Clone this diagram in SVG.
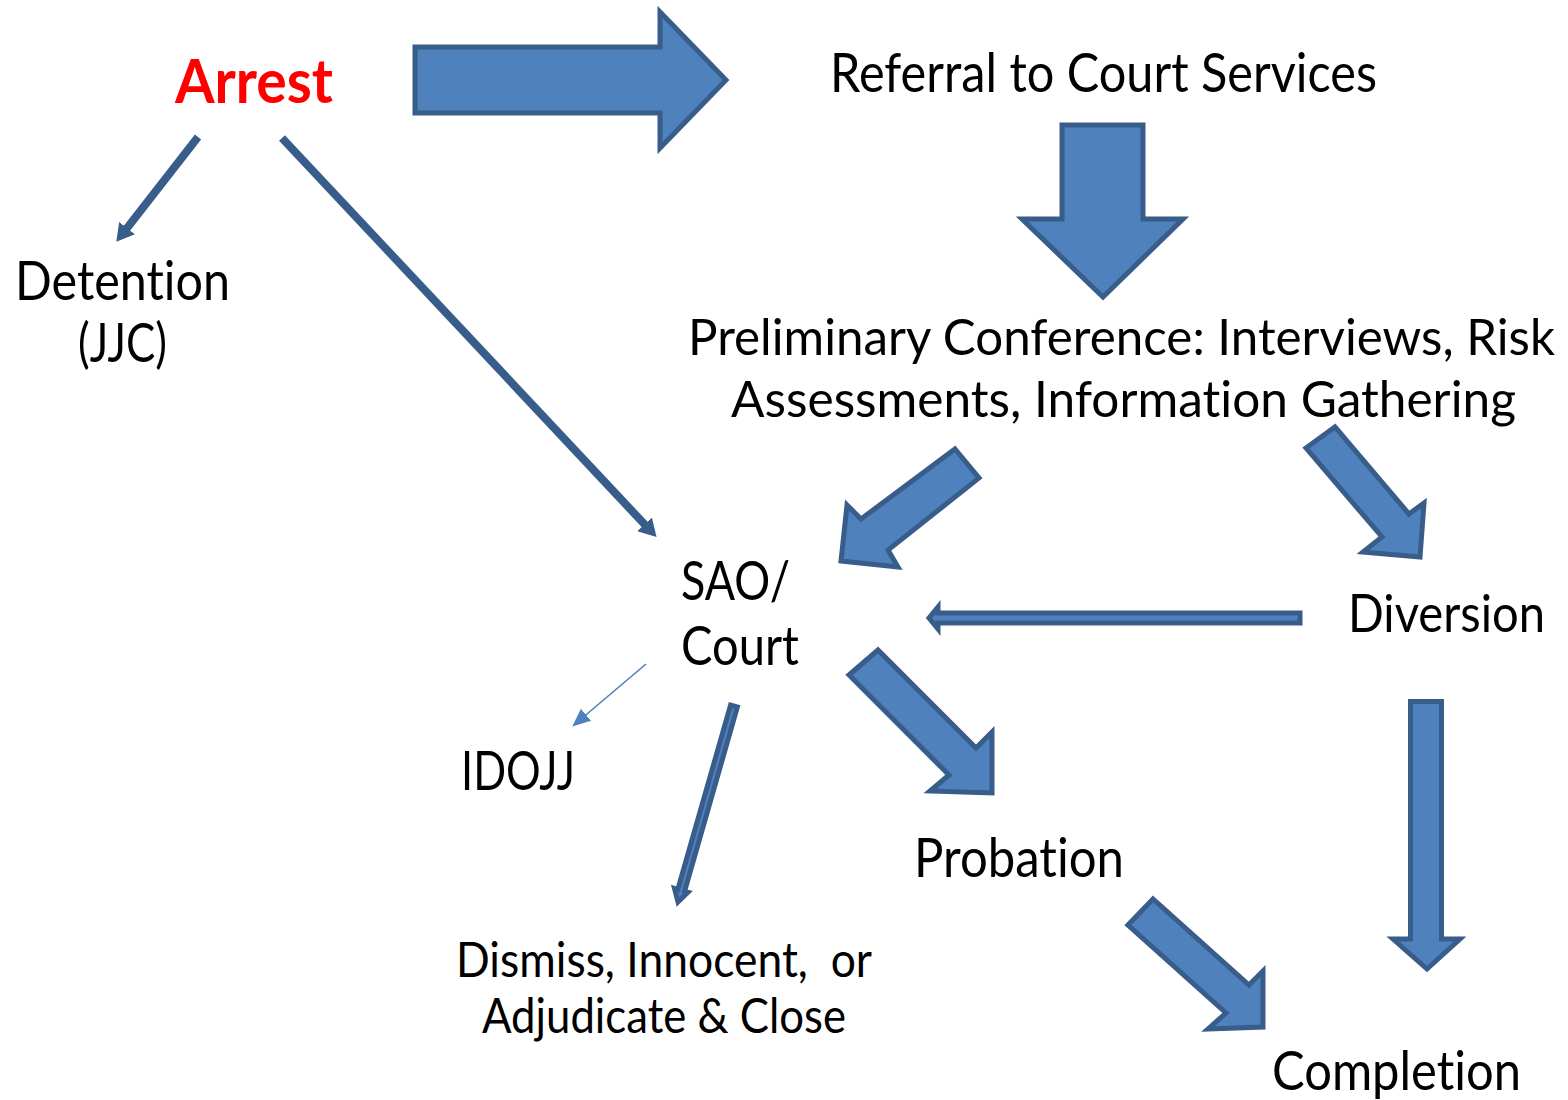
<svg xmlns="http://www.w3.org/2000/svg" width="1568" height="1100" viewBox="0 0 1568 1100">
<style>
text{font-variant-ligatures:none;font-feature-settings:"liga" 0,"clig" 0}
.t{font-family:Lato,"Open Sans","Liberation Sans",sans-serif;font-size:54px;fill:#000}
.s{font-size:48px}
.p{font-size:49.5px}
.blk{fill:#4f81bd;stroke:#385d8a;stroke-width:5;stroke-linejoin:miter}
.ln{stroke:#385d8a;stroke-width:8;fill:none}
</style>
<defs>
<marker id="ah" markerUnits="userSpaceOnUse" markerWidth="20" markerHeight="20" refX="4" refY="8" orient="auto" viewBox="0 0 16 16">
<path d="M0,0 L14,8 L0,16 Z" fill="#385d8a"/>
</marker>
<marker id="ah2" markerUnits="userSpaceOnUse" markerWidth="18" markerHeight="18" refX="14" refY="7" orient="auto" viewBox="0 0 16 14">
<path d="M0,0 L16,7 L0,14 Z" fill="#4f81bd"/>
</marker>
</defs>
<rect width="1568" height="1100" fill="#fff"/>
<g id="connectors">
<path class="blk" d="M415,47 L660,47 L660,12 L726,80 L660,148 L660,113 L415,113 Z"/>
<path class="blk" d="M1062,125 L1143,125 L1143,219 L1183,219 L1103,297 L1022,219 L1062,219 Z"/>
<path class="blk" d="M955,449 L979,478 L888,550 L898,567 L841,561 L847,505 L861,519 Z"/>
<path class="blk" d="M1306,448 L1335,427 L1409,514 L1424,503 L1420,557 L1363,552 L1382,537 Z"/>
<path class="blk" d="M1300,613 L938,613 L938,607 L929,618 L938,629 L938,623 L1300,623 Z" stroke-linejoin="round"/>
<path class="blk" d="M737.4,706.9 L684.6,891.3 L688,892.3 L678,902 L674.5,888.5 L677.8,889.5 L730.6,705.1 Z"/>
<path class="blk" d="M849,675 L878,650 L976,748 L992,732 L992,793 L930,791 L949,775 Z"/>
<path class="blk" d="M1128,925 L1153,899 L1249,985 L1263,971 L1263,1027 L1208,1029 L1226,1013 Z"/>
<path class="blk" d="M1410.5,701.5 L1441.5,701.5 L1441.5,939 L1460,939 L1427,969 L1393,939 L1410.5,939 Z"/>
<line class="ln" x1="198" y1="137" x2="124" y2="232" stroke-width="7" marker-end="url(#ah)"/>
<line class="ln" x1="282" y1="138" x2="648" y2="528" stroke-width="8" marker-end="url(#ah)"/>
<line x1="646" y1="664" x2="574" y2="725" stroke="#4f81bd" stroke-width="1.6" marker-end="url(#ah2)"/>
</g>
<g id="arrest"><text x="175" y="103" font-family="Lato,'Liberation Sans',sans-serif" font-weight="bold" font-size="62" fill="#ff0000" textLength="158" lengthAdjust="spacingAndGlyphs">Arrest</text></g>
<g id="referral"><text class="t" x="830" y="92" textLength="547" lengthAdjust="spacingAndGlyphs">Referral to Court Services</text></g>
<g id="detention"><text class="t" x="15" y="300" textLength="215" lengthAdjust="spacingAndGlyphs">Detention</text><text class="t" x="78" y="362" textLength="89" lengthAdjust="spacingAndGlyphs">(JJC)</text></g>
<g id="preliminary"><text class="t p" x="688" y="355" textLength="867" lengthAdjust="spacingAndGlyphs">Preliminary Conference: Interviews, Risk</text><text class="t p" x="731" y="417" textLength="785" lengthAdjust="spacingAndGlyphs">Assessments, Information Gathering</text></g>
<g id="sao"><text class="t" x="681" y="600" textLength="109" lengthAdjust="spacingAndGlyphs">SAO/</text><text class="t" x="681" y="665" textLength="118" lengthAdjust="spacingAndGlyphs">Court</text></g>
<g id="diversion"><text class="t" x="1348" y="632" font-size="52" style="font-size:52px" textLength="197" lengthAdjust="spacingAndGlyphs">Diversion</text></g>
<g id="idojj"><text class="t" x="461" y="790" textLength="114" lengthAdjust="spacingAndGlyphs">IDOJJ</text></g>
<g id="probation"><text class="t" x="914" y="877" textLength="210" lengthAdjust="spacingAndGlyphs">Probation</text></g>
<g id="dismiss"><text class="t s" x="456" y="977" textLength="416" lengthAdjust="spacingAndGlyphs" xml:space="preserve">Dismiss, Innocent,  or</text><text class="t s" x="482" y="1033" textLength="364" lengthAdjust="spacingAndGlyphs">Adjudicate &amp; Close</text></g>
<g id="completion"><text class="t" x="1272" y="1090" textLength="249" lengthAdjust="spacingAndGlyphs">Completion</text></g>
</svg>
